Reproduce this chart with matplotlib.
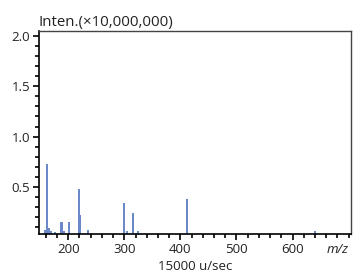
import matplotlib.pyplot as plt
from matplotlib.ticker import MultipleLocator

plt.rcParams['font.family'] = ['Open Sans', 'DejaVu Sans']

# peaks (m/z, intensity x 1e7)
mz = [158.5, 162, 165.5, 169, 176, 188, 192.5, 201, 219, 221.5, 234.5,
      299, 304.5, 315, 324, 411, 641]
inten = [0.069, 0.726, 0.089, 0.056, 0.049, 0.148, 0.059, 0.148, 0.477, 0.218, 0.069,
         0.338, 0.059, 0.238, 0.059, 0.378, 0.059]
xticks = [200, 300, 400, 500, 600]
yticks = [0.5, 1.0, 1.5, 2.0]

fig = plt.figure(figsize=(3.54, 2.75), dpi=100)
ax = fig.add_axes([0.111, 0.149, 0.880, 0.738])

ax.bar(mz, inten, width=3.6, color='#6b88c9', linewidth=0)

ax.set_xlim(148.4, 704)
ax.set_ylim(0.03, 2.05)
ax.set_xticks(xticks)
ax.set_xticklabels([str(v) for v in xticks])
ax.set_yticks(yticks)
ax.set_yticklabels([f'{v:.1f}' for v in yticks])
ax.xaxis.set_minor_locator(MultipleLocator(20))
ax.yaxis.set_minor_locator(MultipleLocator(0.1))

ax.tick_params(axis='both', which='major', length=4.5, width=1.2, labelsize=9.5,
               color='black', labelcolor='#222222', pad=2)
ax.tick_params(axis='both', which='minor', length=3, width=1.2, color='black')
ax.tick_params(top=False, right=False)

for side in ['left', 'bottom']:
    ax.spines[side].set_color('black')
    ax.spines[side].set_linewidth(1.2)
for side in ['top', 'right']:
    ax.spines[side].set_color('#444444')
    ax.spines[side].set_linewidth(1.0)

fig.text(0.108, 0.905, 'Inten.(×10,000,000)', fontsize=10.8, color='#222222',
         ha='left', va='baseline')
fig.text(0.985, 0.068, 'm/z', fontsize=9.5, style='italic', color='#222222',
         ha='right', va='bottom')
fig.text(0.551, 0.006, '15000 u/sec', fontsize=9.5, color='#222222', ha='center',
         va='bottom')

fig.savefig('out.png', dpi=100)
